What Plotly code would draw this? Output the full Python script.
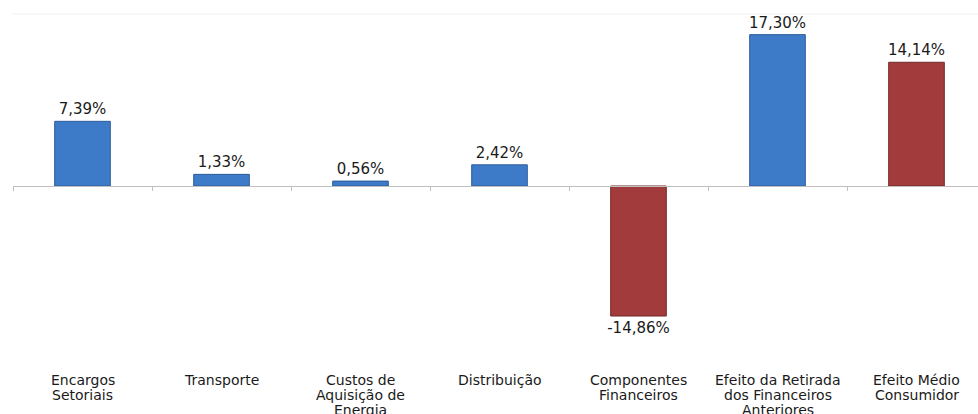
import plotly.graph_objects as go

categories = [
    "Encargos<br>Setoriais",
    "Transporte",
    "Custos de<br>Aquisição de<br>Energia",
    "Distribuição",
    "Componentes<br>Financeiros",
    "Efeito da Retirada<br>dos Financeiros<br>Anteriores",
    "Efeito Médio<br>Consumidor",
]
values = [7.39, 1.33, 0.56, 2.42, -14.86, 17.30, 14.14]
highlight = [False, False, False, False, True, False, True]

BLUE, BLUE_EDGE = "#3D7BC8", "#2C5C99"
RED, RED_EDGE = "#A23B3B", "#742828"
colors = [RED if h else BLUE for h in highlight]
edges = [RED_EDGE if h else BLUE_EDGE for h in highlight]

FONT = "DejaVu Sans, Arial, sans-serif"
W, H = 978, 414
ml, mr, mt, mb = 13, 0, 14, 54
px_per_cat = 139.0
xr = [-0.5, -0.5 + (W - ml - mr) / px_per_cat]
px_per_unit = 8.75
zero_px = 186
y_top = (zero_px - mt) / px_per_unit
y_bot = -((H - mb) - zero_px) / px_per_unit
yr = [y_bot, y_top]
zero_frac = (0 - yr[0]) / (yr[1] - yr[0])

fig = go.Figure()
fig.add_trace(go.Bar(
    x=list(range(len(categories))),
    y=values,
    marker=dict(color=colors, line=dict(color=edges, width=1)),
    width=0.4,
    texttemplate="%{y:.2f}%",
    textposition="outside",
    constraintext="none",
    textfont=dict(family=FONT, size=15, color="#1a1a1a"),
    cliponaxis=False,
    hoverinfo="skip",
))
# invisible helper trace so xaxis2 is drawn
fig.add_trace(go.Scatter(x=[xr[0]], y=[0], xaxis="x2", mode="markers",
                         marker=dict(opacity=0), hoverinfo="skip"))

fig.update_layout(
    width=W, height=H,
    margin=dict(l=ml, r=mr, t=mt, b=mb, autoexpand=False),
    paper_bgcolor="white", plot_bgcolor="white",
    separators=",.",
    showlegend=False,
    xaxis=dict(
        range=xr, automargin=False,
        showticklabels=False,
        showline=False, showgrid=False, zeroline=False, ticks="",
    ),
    xaxis2=dict(
        overlaying="x", anchor="free", position=zero_frac,
        range=xr, automargin=False,
        tickmode="array",
        tickvals=[i - 0.5 for i in range(len(categories))],
        showticklabels=False,
        showline=True, linecolor="#BFBFBF", linewidth=1,
        ticks="outside", ticklen=4, tickcolor="#BFBFBF",
        showgrid=False, zeroline=False,
    ),
    yaxis=dict(range=yr, visible=False, showgrid=False, zeroline=False, automargin=False),
)

# category labels, line by line (tight line spacing as in the reference)
line_h = 15
for i, cat in enumerate(categories):
    for j, line in enumerate(cat.split("<br>")):
        fig.add_annotation(
            x=i, xref="x", y=0, yref="paper",
            text=line, showarrow=False,
            yanchor="middle", xanchor="center",
            yshift=-(20 + j * line_h),
            font=dict(family=FONT, size=14, color="#1a1a1a"),
        )

fig.add_shape(type="line", xref="paper", yref="paper", x0=0, x1=1, y0=1, y1=1,
              line=dict(color="#F3F3F3", width=1))

fig.write_html(
    "out.html",
    config={"displayModeBar": False},
    post_script="document.body.style.margin='0';document.body.style.overflow='hidden';",
)
